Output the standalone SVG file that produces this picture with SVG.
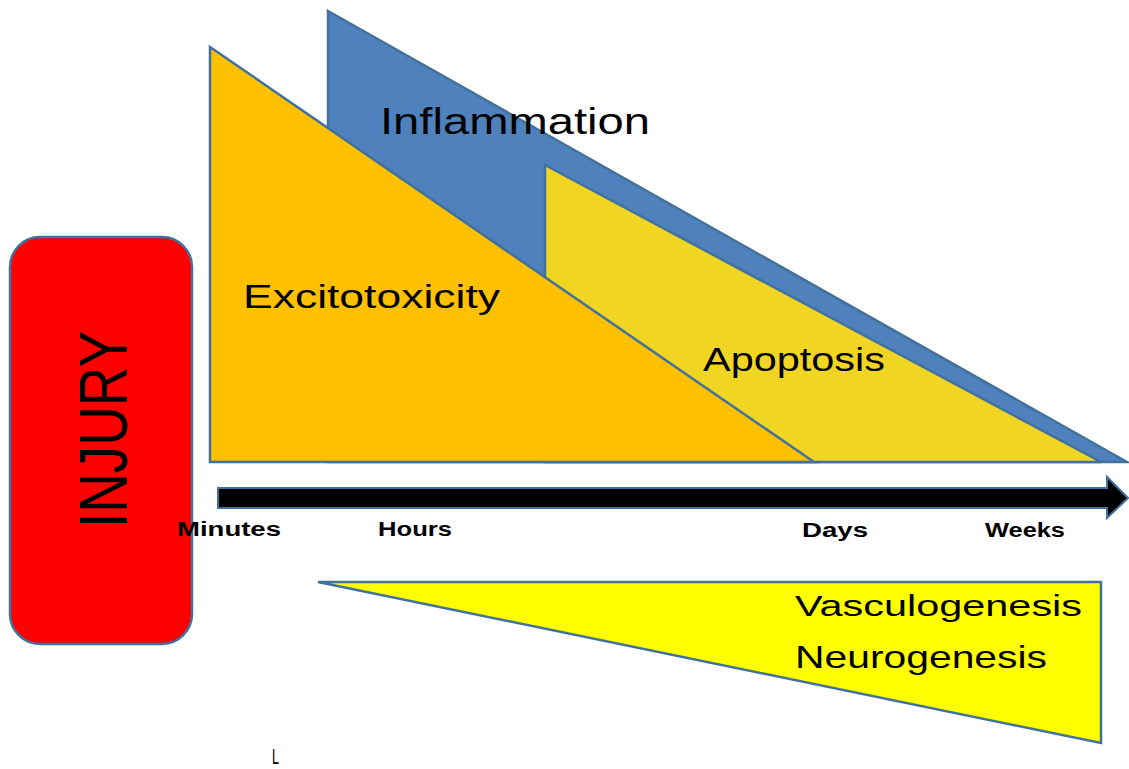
<svg xmlns="http://www.w3.org/2000/svg" width="1129" height="769" viewBox="0 0 1129 769">
<style>
.shape{stroke:#41719C;stroke-width:2.5;stroke-linejoin:miter}
.lbl{font-family:"Liberation Sans","DejaVu Sans",sans-serif;fill:#000}
.time{font-family:"Liberation Sans","DejaVu Sans",sans-serif;font-weight:bold;font-size:20px;fill:#000}
</style>
<rect width="1129" height="769" fill="#fff"/>
<g id="inflammation">
<polygon class="shape" fill="#4F81BD" points="328,11 1127,462 328,462"/>
<text class="lbl" x="380" y="134" font-size="36" textLength="270" lengthAdjust="spacingAndGlyphs">Inflammation</text>
</g>
<g id="apoptosis">
<polygon class="shape" fill="#F0D523" points="545,165 1101,462 545,462"/>
<text class="lbl" x="703" y="371" font-size="34" textLength="182" lengthAdjust="spacingAndGlyphs">Apoptosis</text>
</g>
<g id="excitotoxicity">
<polygon class="shape" fill="#FFC000" points="210,47 814,462 210,462"/>
<text class="lbl" x="243" y="308" font-size="33" textLength="257" lengthAdjust="spacingAndGlyphs">Excitotoxicity</text>
</g>
<g id="injury">
<rect class="shape" fill="#FF0000" x="10" y="237" width="182" height="407" rx="30" ry="30"/>
<text class="lbl" transform="translate(127,528) rotate(-90)" x="0" y="0" font-size="68" textLength="197" lengthAdjust="spacingAndGlyphs">INJURY</text>
</g>
<g id="connectors">
<polygon fill="#000" stroke="#41719C" stroke-width="2" points="218,488 1107,488 1107,477 1128,498 1107,518 1107,508 218,508"/>
</g>
<g id="time-labels">
<text class="time" x="177" y="536" textLength="104" lengthAdjust="spacingAndGlyphs">Minutes</text>
<text class="time" x="378" y="536" textLength="74" lengthAdjust="spacingAndGlyphs">Hours</text>
<text class="time" x="802" y="537" textLength="66" lengthAdjust="spacingAndGlyphs">Days</text>
<text class="time" x="985" y="537" textLength="80" lengthAdjust="spacingAndGlyphs">Weeks</text>
</g>
<g id="regeneration">
<polygon class="shape" fill="#FFFF00" points="318,582 1101,582 1101,743"/>
<text class="lbl" x="795" y="616" font-size="30" textLength="287" lengthAdjust="spacingAndGlyphs">Vasculogenesis</text>
<text class="lbl" x="795" y="668" font-size="32" textLength="252" lengthAdjust="spacingAndGlyphs">Neurogenesis</text>
</g>
<text class="lbl" x="272" y="764" font-size="22" textLength="7" lengthAdjust="spacingAndGlyphs" fill="#222">L</text>
</svg>
